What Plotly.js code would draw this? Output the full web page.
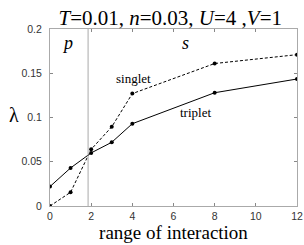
<!DOCTYPE html>
<html><head><meta charset="utf-8">
<script src="https://cdn.plot.ly/plotly-3.0.1.min.js"></script>
<style>html,body{margin:0;padding:0;background:#fff}#chart{width:304px;height:245px}</style>
</head><body><div id="chart"></div>
<script>
var ranges = [0, 1, 2, 3, 4, 8, 12];
var triplet = [0.022, 0.043, 0.060, 0.072, 0.093, 0.128, 0.1435];
var singlet = [0.0, 0.0155, 0.064, 0.0895, 0.127, 0.161, 0.171];
var xTicks = [0, 2, 4, 6, 8, 10, 12];
var yTicks = [0, 0.05, 0.1, 0.15, 0.2];
var yTickLabels = ['0', '0.05', '0.1', '0.15', '0.2'];
var boundaryX = 1.85;

var traces = [
  {x: ranges, y: triplet, mode: 'lines+markers', name: 'triplet',
   line: {color: '#000', width: 1}, marker: {color: '#000', size: 4}},
  {x: ranges, y: singlet, mode: 'lines+markers', name: 'singlet',
   line: {color: '#000', width: 1, dash: '3px,2px'}, marker: {color: '#000', size: 4}}
];
var serif = 'Liberation Serif, Times New Roman, serif';
var sans = 'Liberation Sans, Arial, sans-serif';
var layout = {
  width: 304, height: 245,
  margin: {l: 50, r: 7, t: 29, b: 39},
  paper_bgcolor: '#fff', plot_bgcolor: '#fff',
  showlegend: false,
  title: {text: '<i>T</i>=0.01, <i>n</i>=0.03, <i>U</i>=4 ,<i>V</i>=1', font: {family: serif, size: 21, color: '#000'},
          x: 0.56, xanchor: 'center', y: 0.96, yanchor: 'top'},
  xaxis: {range: [0, 12], tickvals: xTicks, ticks: 'inside', ticklen: 3, tickcolor: '#888',
          showline: true, linecolor: '#aaa', mirror: 'ticks', showgrid: false, zeroline: false,
          tickfont: {family: sans, size: 10.5, color: '#333'},
          title: {text: 'range of interaction', font: {family: serif, size: 19, color: '#000'}, standoff: 2}},
  yaxis: {range: [0, 0.2], tickvals: yTicks, ticktext: yTickLabels, ticks: 'inside', ticklen: 3, tickcolor: '#888',
          showline: true, linecolor: '#aaa', mirror: 'ticks', showgrid: false, zeroline: false,
          ticklabelstandoff: 5,
          tickfont: {family: sans, size: 10.5, color: '#333'},
          title: {text: ''}},
  shapes: [{type: 'line', xref: 'x', yref: 'paper', x0: boundaryX, x1: boundaryX, y0: 0, y1: 1,
            line: {color: '#aaa', width: 1}}],
  annotations: [
    {text: 'λ', xref: 'paper', yref: 'paper', x: -0.174, y: 0.514, showarrow: false,
     font: {family: serif, size: 20, color: '#000'}},
    {text: '<i>p</i>', xref: 'x', yref: 'paper', x: 0.87, y: 0.99, yanchor: 'top', showarrow: false,
     font: {family: serif, size: 18, color: '#000'}},
    {text: '<i>s</i>', xref: 'x', yref: 'paper', x: 6.56, y: 0.99, yanchor: 'top', showarrow: false,
     font: {family: serif, size: 18, color: '#000'}},
    {text: 'singlet', xref: 'x', yref: 'y', x: 4.08, y: 0.1446, showarrow: false,
     font: {family: serif, size: 13, color: '#000'}},
    {text: 'triplet', xref: 'x', yref: 'y', x: 7.05, y: 0.106, showarrow: false,
     font: {family: serif, size: 13, color: '#000'}}
  ]
};
Plotly.newPlot('chart', traces, layout, {displayModeBar: false, staticPlot: true});
</script></body></html>
